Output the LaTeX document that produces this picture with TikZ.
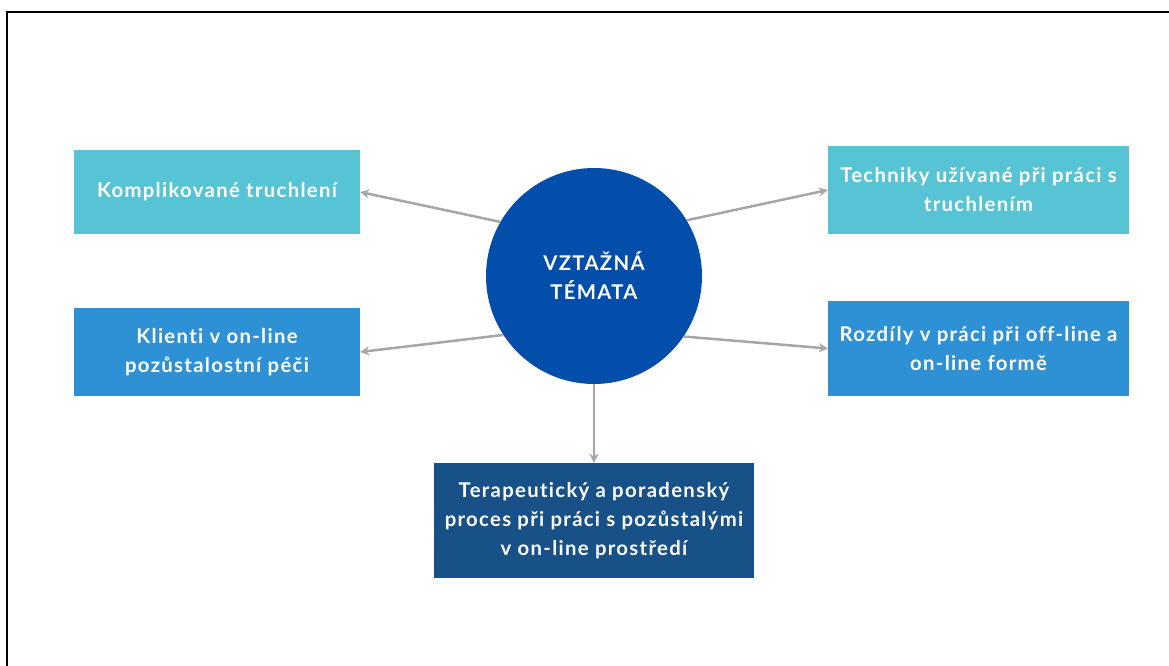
\documentclass[tikz,border=0pt]{standalone}
\usepackage{fontspec}
\setmainfont{Lato}[LetterSpace=6.5, Ligatures=NoCommon]
\usetikzlibrary{arrows.meta}
\definecolor{cyanbox}{HTML}{56C4D4}
\definecolor{midbox}{HTML}{2F91D5}
\definecolor{darkbox}{HTML}{175188}
\definecolor{hub}{HTML}{034EAB}
\definecolor{conn}{HTML}{A6A6A6}
\tikzset{
  topic/.style={rectangle, inner sep=0pt, align=center, text=white,
    font=\bfseries\fontsize{20.3}{29}\selectfont},
  conn/.style={draw=conn, line width=2.5pt, -{Stealth[length=9pt,width=9pt]}},
}
\begin{document}
\begin{tikzpicture}[x=1pt,y=-1pt]
\useasboundingbox (0,0) rectangle (1169,666);
\fill[white] (0,0) rectangle (1169,666);
\draw[black, line width=2pt] (7,666) -- (7,12.5) -- (1169,12.5);
\node[topic, fill=cyanbox, minimum width=286pt, minimum height=84pt] (k) at (217,192) {Komplikované truchlení};
\node[topic, fill=cyanbox, minimum width=301pt, minimum height=88pt] (t) at (978.5,190) {Techniky užívané při práci s\\truchlením};
\node[topic, fill=midbox, minimum width=286pt, minimum height=88pt] (c) at (217,352) {Klienti v on-line\\pozůstalostní péči};
\node[topic, fill=midbox, minimum width=301pt, minimum height=95pt] (r) at (978.5,348.5) {Rozdíly v práci při off-line a\\on-line formě};
\node[topic, fill=darkbox, minimum width=320pt, minimum height=115pt] (p) at (594,520.5) {Terapeutický a poradenský\\proces při práci s pozůstalými\\v on-line prostředí};
\node[topic, circle, fill=hub, minimum size=216pt] (h) at (594,276) {VZTAŽNÁ\\TÉMATA};
\draw[conn] (h.150) -- (k.east);
\draw[conn] (h.31.5) -- (t.west);
\draw[conn] (h.213.4) -- (c.east);
\draw[conn] (h.326.6) -- (r.west);
\draw[conn] (h.south) -- (p.north);
\end{tikzpicture}
\end{document}
